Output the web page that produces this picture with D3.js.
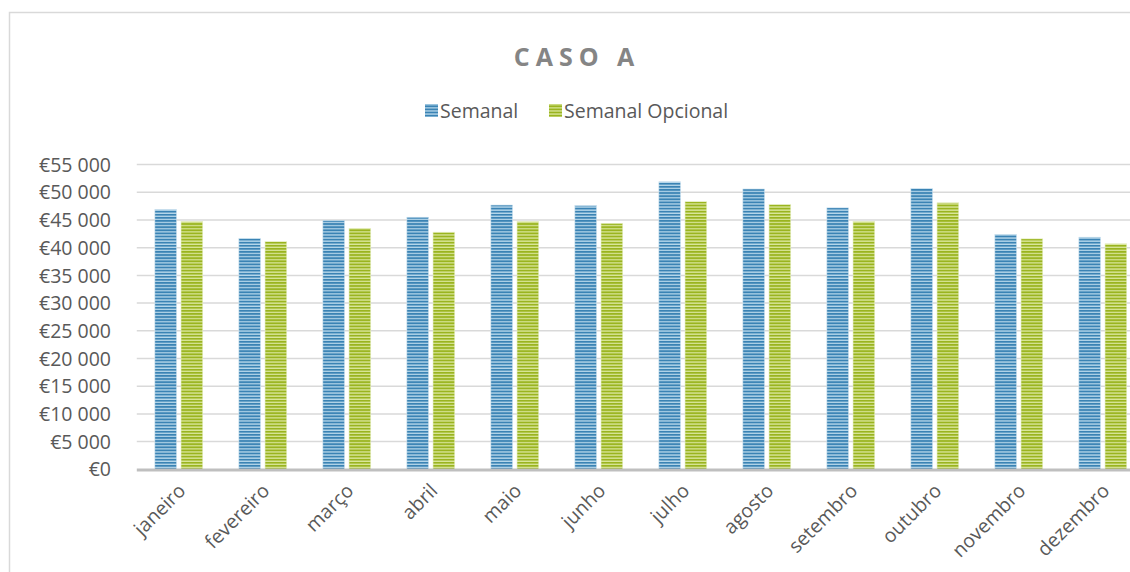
<!DOCTYPE html>
<html><head><meta charset="utf-8">
<script src="https://cdn.jsdelivr.net/npm/d3@7"></script>
<style>
html,body{margin:0;padding:0;background:#fff;}
svg text{font-family:"Open Sans",sans-serif;}
</style></head>
<body>
<svg id="chart" width="1130" height="572"></svg>
<script>
const months = ["janeiro","fevereiro","março","abril","maio","junho","julho","agosto","setembro","outubro","novembro","dezembro"];
const semanal = [46900, 41700, 44900, 45500, 47700, 47600, 51900, 50600, 47200, 50700, 42400, 41900];
const semanalOpcional = [44700, 41100, 43500, 42800, 44700, 44400, 48300, 47800, 44700, 48100, 41600, 40700];
const seriesNames = ["Semanal", "Semanal Opcional"];
const yTicks = [0,5000,10000,15000,20000,25000,30000,35000,40000,45000,50000,55000];
const title = "CASO A";

const svg = d3.select("#chart");
const defs = svg.append("defs");
const pal = [
  {dark:"#3a83b4", light:"#b5d6ea", id:"pBlue"},
  {dark:"#9ab41f", light:"#d9e69a", id:"pGreen"}
];
pal.forEach(p=>{
  const pat = defs.append("pattern").attr("id",p.id).attr("patternUnits","userSpaceOnUse")
    .attr("width",4).attr("height",3.1);
  pat.append("rect").attr("width",4).attr("height",3.1).attr("fill",p.light);
  pat.append("rect").attr("width",4).attr("height",1.8).attr("fill",p.dark);
});

// frame
svg.append("rect").attr("x",9.5).attr("y",12.5).attr("width",1200).attr("height",700)
  .attr("fill","none").attr("stroke","#d9d9d9").attr("stroke-width",1.5);

const x0 = d3.scaleBand().domain(months).range([136.8, 1144.8]).paddingInner(0.43).paddingOuter(0.215);
const x1 = d3.scaleBand().domain(seriesNames).range([0, x0.bandwidth()]).paddingInner(0.17);
const y = d3.scaleLinear().domain([0,55000]).range([469.3,164.6]);

// gridlines
svg.append("g").selectAll("line").data(yTicks.filter(d=>d>0)).join("line")
  .attr("x1",136.8).attr("x2",1130).attr("y1",d=>y(d)).attr("y2",d=>y(d))
  .attr("stroke","#d9d9d9").attr("stroke-width",1.5);

// y axis labels
const fmt = d => "€" + (d===0 ? "0" : d3.format(",")(d).replace(/,/g," "));
const yAxis = d3.axisLeft(y).tickValues(yTicks).tickFormat(fmt).tickSize(0).tickPadding(0);
const gy = svg.append("g").attr("transform","translate(111,0)").call(yAxis);
gy.select(".domain").remove();
gy.selectAll("text").attr("font-size",19.5).attr("fill","#595959").attr("font-family","Open Sans").attr("dy","0.34em");

// bars
const data = months.map((m,i)=>({m, vals:[semanal[i], semanalOpcional[i]]}));
const groups = svg.append("g").selectAll("g").data(data).join("g")
  .attr("transform",d=>`translate(${x0(d.m)},0)`);
groups.selectAll("rect").data(d=>d.vals.map((v,k)=>({v,k}))).join("rect")
  .attr("x",d=>x1(seriesNames[d.k])).attr("width",x1.bandwidth())
  .attr("y",d=>y(d.v)).attr("height",d=>y(0)-y(d.v))
  .attr("fill",d=>`url(#${pal[d.k].id})`)
  .attr("stroke",d=>d.k===0?"#cfe3f0":"#e6eec4").attr("stroke-width",0.6);

// x axis line
svg.append("line").attr("x1",136.8).attr("x2",1130).attr("y1",470).attr("y2",470)
  .attr("stroke","#bfbfbf").attr("stroke-width",3);

// x labels
const xAxis = d3.axisBottom(x0).tickSize(0).tickPadding(0);
const gx = svg.append("g").attr("transform","translate(0,470)").call(xAxis);
gx.select(".domain").remove();
gx.selectAll("text").attr("font-size",19.5).attr("fill","#595959").attr("font-family","Open Sans")
  .attr("text-anchor","end").attr("dy",null).attr("y",0)
  .attr("transform","translate(8,22) rotate(-45)");

// title
svg.append("text").attr("x",577).attr("y",66).attr("text-anchor","middle")
  .attr("font-size",25).attr("font-weight","bold").attr("letter-spacing",6)
  .attr("fill","#858585").text(title);

// legend
const leg = svg.append("g");
const legItems = [{x:425, name:seriesNames[0], k:0},{x:549, name:seriesNames[1], k:1}];
legItems.forEach(it=>{
  leg.append("rect").attr("x",it.x).attr("y",104).attr("width",13).attr("height",13)
    .attr("fill",`url(#${pal[it.k].id})`);
  leg.append("text").attr("x",it.x+15).attr("y",111).attr("dy","0.35em")
    .attr("font-size",19.5).attr("fill","#595959").text(it.name);
});
</script>
</body></html>
